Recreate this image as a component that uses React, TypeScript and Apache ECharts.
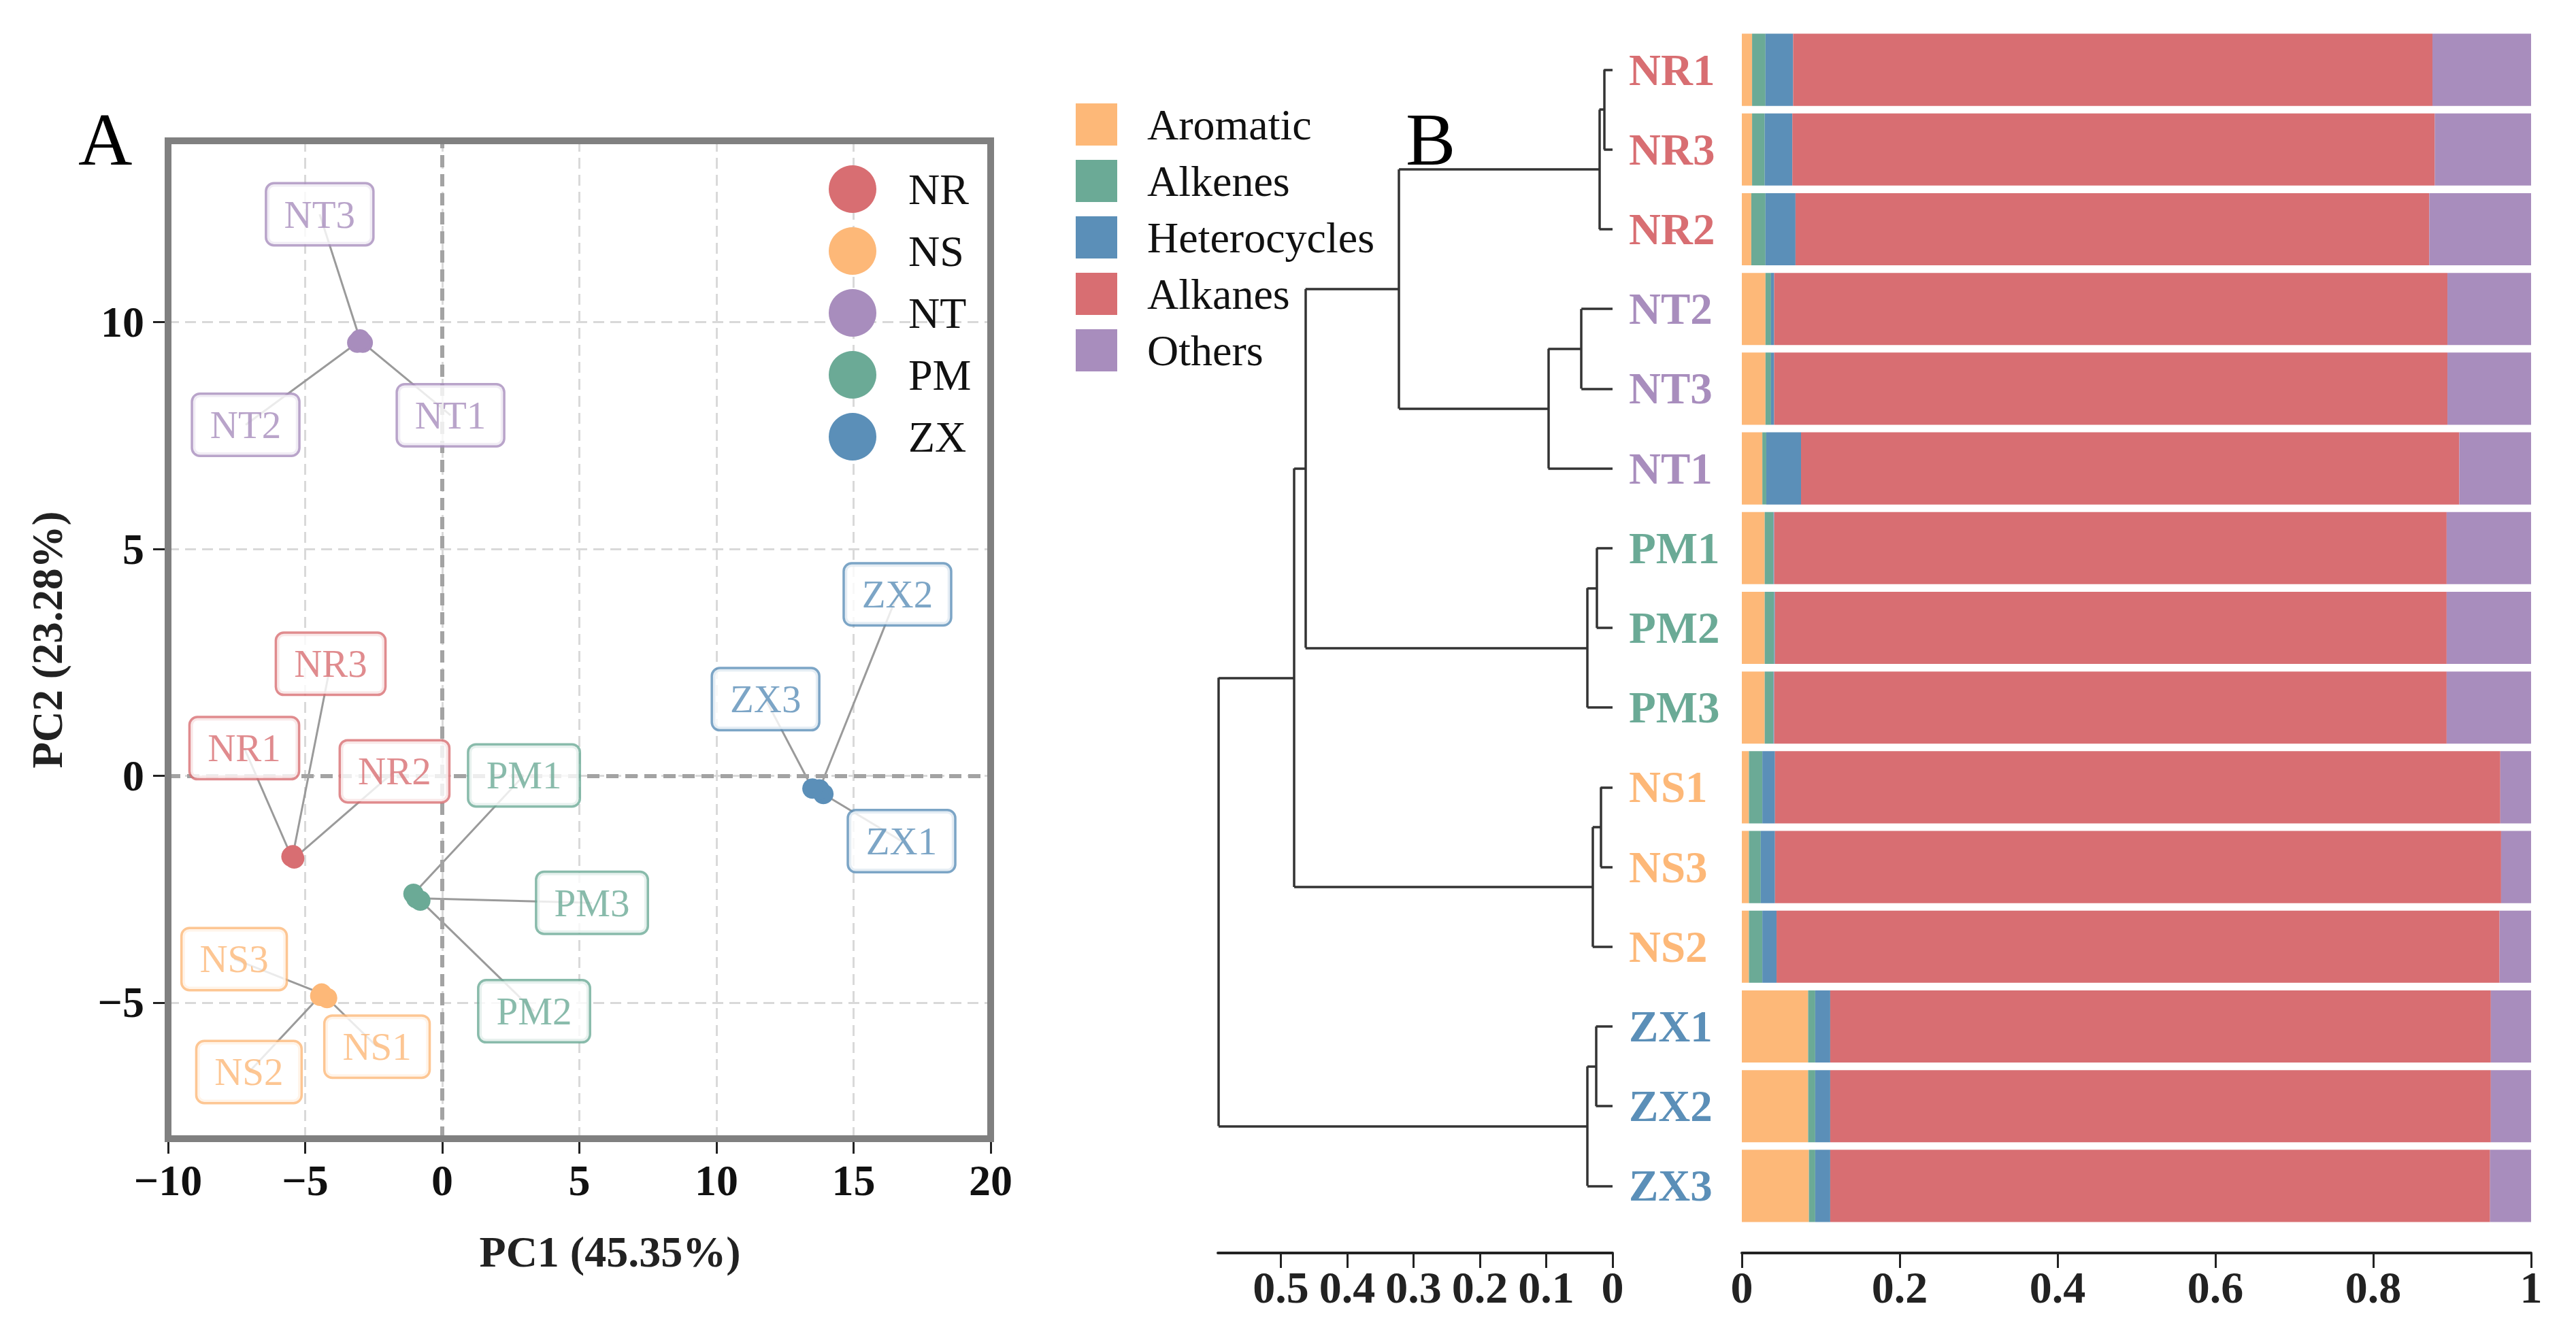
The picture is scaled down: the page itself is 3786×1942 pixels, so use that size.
import React, { useEffect, useRef } from 'react';
import * as echarts from 'echarts';

// ---------- Panel A: PCA ----------
const groups = ['NR', 'NS', 'NT', 'PM', 'ZX'];
const groupColors = ['#D86E72', '#FDB878', '#A88DBD', '#6BAA96', '#5B8FB8'];

const samples = ['NR1', 'NR2', 'NR3', 'NS1', 'NS2', 'NS3', 'NT1', 'NT2', 'NT3', 'PM1', 'PM2', 'PM3', 'ZX1', 'ZX2', 'ZX3'];
const pc1 = [-5.5, -5.4, -5.45, -4.2, -4.45, -4.4, -2.9, -3.1, -3.0, -1.05, -0.8, -0.95, 13.9, 13.75, 13.5];
const pc2 = [-1.78, -1.82, -1.75, -4.9, -4.85, -4.8, 9.55, 9.55, 9.62, -2.6, -2.75, -2.7, -0.4, -0.3, -0.28];
// repelled label positions (data units)
const labelPc1 = [-7.22, -1.74, -4.07, -2.38, -7.05, -7.59, 0.3, -7.17, -4.47, 2.98, 3.35, 5.46, 16.75, 16.6, 11.79];
const labelPc2 = [0.61, 0.1, 2.47, -5.97, -6.53, -4.04, 7.95, 7.74, 12.38, 0.01, -5.19, -2.8, -1.44, 4.0, 1.69];

const pcXTicks = [-10, -5, 0, 5, 10, 15, 20];
const pcYTicks = [-5, 0, 5, 10];

// ---------- Panel B: dendrogram + stacked bars ----------
const barSamples = ['NR1', 'NR3', 'NR2', 'NT2', 'NT3', 'NT1', 'PM1', 'PM2', 'PM3', 'NS1', 'NS3', 'NS2', 'ZX1', 'ZX2', 'ZX3'];
const compNames = ['Aromatic', 'Alkenes', 'Heterocycles', 'Alkanes', 'Others'];
const compColors = ['#FDB878', '#6BAA96', '#5B8FB8', '#D86E72', '#A88DBD'];
const aromatic = [0.013, 0.013, 0.012, 0.03, 0.03, 0.026, 0.029, 0.029, 0.029, 0.009, 0.009, 0.009, 0.084, 0.084, 0.085];
const alkenes = [0.017, 0.016, 0.018, 0.007, 0.007, 0.005, 0.011, 0.012, 0.011, 0.017, 0.015, 0.017, 0.009, 0.009, 0.008];
const heterocycles = [0.035, 0.035, 0.038, 0.004, 0.004, 0.044, 0.001, 0.001, 0.001, 0.016, 0.018, 0.018, 0.019, 0.019, 0.019];
const alkanes = [0.81, 0.814, 0.803, 0.853, 0.853, 0.834, 0.852, 0.851, 0.852, 0.919, 0.92, 0.916, 0.837, 0.837, 0.836];
const others = [0.125, 0.122, 0.129, 0.106, 0.106, 0.091, 0.107, 0.107, 0.107, 0.039, 0.038, 0.04, 0.051, 0.051, 0.052];
const compValues = [aromatic, alkenes, heterocycles, alkanes, others];

// hierarchical clustering merges (n1..n14)
const mergeA = ['NR1', 'n1', 'NT2', 'n3', 'n2', 'PM1', 'n6', 'n5', 'NS1', 'n9', 'n8', 'ZX1', 'n12', 'n11'];
const mergeB = ['NR3', 'NR2', 'NT3', 'NT1', 'n4', 'PM2', 'PM3', 'n7', 'NS3', 'NS2', 'n10', 'ZX2', 'ZX3', 'n13'];
const mergeHeight = [0.013, 0.02, 0.047, 0.097, 0.322, 0.024, 0.038, 0.463, 0.018, 0.03, 0.48, 0.025, 0.038, 0.594];

const dendroTicks = [0, 0.1, 0.2, 0.3, 0.4, 0.5];
const barTicks = [0, 0.2, 0.4, 0.6, 0.8, 1];

const serif = '"Liberation Serif", "Times New Roman", serif';

function groupColor(name: string) {
  const i = groups.indexOf(name.slice(0, 2));
  return groupColors[i] || '#333';
}

function fmtMinus(v: number) {
  return String(v).replace('-', '\u2212');
}

function buildDendro() {
  const pos: Record<string, { y: number; h: number }> = {};
  barSamples.forEach((s, i) => (pos[s] = { y: i, h: 0 }));
  const segs: number[][][] = [];
  mergeA.forEach((a, i) => {
    const b = mergeB[i];
    const h = mergeHeight[i];
    const A = pos[a];
    const B = pos[b];
    segs.push([[A.h, A.y], [h, A.y]]);
    segs.push([[B.h, B.y], [h, B.y]]);
    segs.push([[h, A.y], [h, B.y]]);
    pos['n' + (i + 1)] = { y: (A.y + B.y) / 2, h };
  });
  return segs;
}

function buildOption() {
  const boldTick = { fontSize: 64, fontWeight: 'bold', fontFamily: serif, color: '#111' };
  const segs = buildDendro();

  const pointSeries = groups.map((g, gi) => ({
    type: 'scatter',
    name: g,
    xAxisIndex: 0,
    yAxisIndex: 0,
    z: 4,
    symbolSize: 30,
    itemStyle: { color: groupColors[gi], opacity: 1 },
    data: samples
      .map((s, i) => ({ s, i }))
      .filter((o) => o.s.slice(0, 2) === g)
      .map((o) => [pc1[o.i], pc2[o.i]]),
  }));

  const connectors = {
    type: 'lines',
    name: 'connectors',
    coordinateSystem: 'cartesian2d',
    xAxisIndex: 0,
    yAxisIndex: 0,
    z: 3,
    silent: true,
    lineStyle: { color: '#9A9A9A', width: 3, opacity: 1 },
    data: samples.map((s, i) => ({ coords: [[pc1[i], pc2[i]], [labelPc1[i], labelPc2[i]]] })),
  };

  const zeroLines = {
    type: 'scatter',
    name: 'zero',
    xAxisIndex: 0,
    yAxisIndex: 0,
    z: 2,
    data: [],
    markLine: {
      silent: true,
      symbol: 'none',
      label: { show: false },
      lineStyle: { color: '#A3A3A3', width: 6, type: [18, 10] },
      data: [{ xAxis: 0 }, { yAxis: 0 }],
    },
  };

  const labelSeries = {
    type: 'scatter',
    name: 'labels',
    xAxisIndex: 0,
    yAxisIndex: 0,
    z: 6,
    symbolSize: 2,
    itemStyle: { color: 'rgba(255,255,255,0)' },
    label: {
      show: true,
      position: 'inside',
      formatter: '{b}',
      fontSize: 57,
      lineHeight: 60,
      fontFamily: serif,
      backgroundColor: '#fff',
      borderWidth: 3.5,
      borderRadius: 10,
      padding: [14, 25],
    },
    data: samples.map((s, i) => ({
      name: s,
      value: [labelPc1[i], labelPc2[i]],
      label: { color: groupColor(s), borderColor: groupColor(s) },
    })),
  };

  const dendroSeries = {
    type: 'lines',
    name: 'dendrogram',
    coordinateSystem: 'cartesian2d',
    xAxisIndex: 1,
    yAxisIndex: 1,
    silent: true,
    lineStyle: { color: '#333', width: 3.5, opacity: 1 },
    data: segs.map((c) => ({ coords: c })),
  };

  const barSeries = compNames.map((n, ci) => ({
    type: 'bar',
    name: n,
    xAxisIndex: 2,
    yAxisIndex: 2,
    stack: 'comp',
    barCategoryGap: '9.5%',
    itemStyle: { color: compColors[ci] },
    data: compValues[ci],
  }));

  return {
    animation: false,
    backgroundColor: '#ffffff',
    textStyle: { fontFamily: serif },
    grid: [
      { left: 247, top: 207, width: 1209, height: 1467 },
      { left: 1790, top: 44, width: 580, height: 1758 },
      { left: 2560, top: 44, width: 1160, height: 1758 },
    ],
    xAxis: [
      {
        gridIndex: 0,
        type: 'value',
        position: 'bottom',
        min: -10,
        max: 20,
        interval: 5,
        axisLine: { show: false, onZero: false },
        axisTick: { show: true, length: 22, lineStyle: { color: '#222', width: 3 } },
        axisLabel: { ...boldTick, margin: 29, formatter: (v: number) => fmtMinus(v), customValues: pcXTicks },
        splitLine: { show: true, lineStyle: { color: '#D9D9D9', width: 3, type: [16, 9] } },
        name: 'PC1 (45.35%)',
        nameLocation: 'middle',
        nameGap: 134,
        nameTextStyle: { fontSize: 64, fontWeight: 'bold', fontFamily: serif, color: '#222', padding: [0, 0, 0, 90] },
      },
      {
        gridIndex: 1,
        type: 'value',
        position: 'bottom',
        min: 0,
        max: 0.595,
        inverse: true,
        offset: 40,
        axisLine: { show: true, onZero: false, lineStyle: { color: '#222', width: 4 } },
        axisTick: { show: true, length: 22, lineStyle: { color: '#222', width: 3 }, customValues: dendroTicks },
        axisLabel: { fontSize: 66, fontWeight: 'bold', fontFamily: serif, color: '#222', margin: 17, customValues: dendroTicks },
        splitLine: { show: false },
      },
      {
        gridIndex: 2,
        type: 'value',
        position: 'bottom',
        min: 0,
        max: 1,
        interval: 0.2,
        offset: 40,
        axisLine: { show: true, onZero: false, lineStyle: { color: '#222', width: 4 } },
        axisTick: { show: true, length: 22, lineStyle: { color: '#222', width: 3 }, customValues: barTicks },
        axisLabel: { fontSize: 66, fontWeight: 'bold', fontFamily: serif, color: '#222', margin: 17, customValues: barTicks },
        splitLine: { show: false },
      },
    ],
    yAxis: [
      {
        gridIndex: 0,
        type: 'value',
        position: 'left',
        min: -8,
        max: 14,
        axisLine: { show: false, onZero: false },
        axisTick: { show: true, length: 22, lineStyle: { color: '#222', width: 3 }, customValues: pcYTicks },
        axisLabel: { ...boldTick, margin: 35, formatter: (v: number) => fmtMinus(v), customValues: pcYTicks },
        splitLine: { show: true, lineStyle: { color: '#D9D9D9', width: 3, type: [16, 9] } },
        name: 'PC2 (23.28%)',
        nameLocation: 'middle',
        nameGap: 146,
        nameTextStyle: { fontSize: 63, fontWeight: 'bold', fontFamily: serif, color: '#222' },
      },
      {
        gridIndex: 1,
        type: 'value',
        min: -0.5,
        max: 14.5,
        inverse: true,
        show: false,
        axisLine: { onZero: false },
      },
      {
        gridIndex: 2,
        type: 'category',
        data: barSamples,
        inverse: true,
        axisLine: { show: false, onZero: false },
        axisTick: { show: false },
        axisLabel: {
          align: 'left',
          margin: 166,
          fontSize: 65,
          fontWeight: 'bold',
          fontFamily: serif,
          color: (v: string) => groupColor(v),
        },
      },
    ],
    legend: [
      {
        data: compNames,
        orient: 'vertical',
        left: 1576,
        top: 146,
        itemWidth: 61,
        itemHeight: 62,
        itemGap: 19,
        icon: 'rect',
        selectedMode: false,
        textStyle: { fontSize: 64, fontFamily: serif, color: '#111', padding: [0, 0, 0, 39] },
      },
      {
        data: groups,
        orient: 'vertical',
        left: 1213,
        top: 238,
        itemWidth: 70,
        itemHeight: 70,
        itemGap: 21,
        icon: 'circle',
        selectedMode: false,
        textStyle: { fontSize: 64, fontFamily: serif, color: '#111', padding: [0, 0, 0, 42] },
      },
    ],
    graphic: [
      {
        type: 'rect',
        z: 100,
        silent: true,
        shape: { x: 247, y: 207, width: 1209, height: 1467 },
        style: { fill: 'none', stroke: '#808080', lineWidth: 10 },
      },
      {
        type: 'text',
        z: 100,
        x: 115,
        y: 205,
        style: { text: 'A', fontSize: 110, fontFamily: serif, fill: '#000', verticalAlign: 'middle' },
      },
      {
        type: 'text',
        z: 100,
        x: 2066,
        y: 205,
        style: { text: 'B', fontSize: 110, fontFamily: serif, fill: '#000', verticalAlign: 'middle' },
      },
    ],
    series: [zeroLines, connectors, ...pointSeries, labelSeries, dendroSeries, ...barSeries],
  };
}

export default function App() {
  const ref = useRef<HTMLDivElement>(null);
  useEffect(() => {
    document.body.style.margin = '0';
    document.body.style.overflow = 'hidden';
    const chart = echarts.init(ref.current as HTMLDivElement, null, { renderer: 'svg' });
    chart.setOption(buildOption() as any);
    return () => chart.dispose();
  }, []);
  return <div ref={ref} style={{ width: 3786, height: 1942, background: '#fff' }} />;
}
